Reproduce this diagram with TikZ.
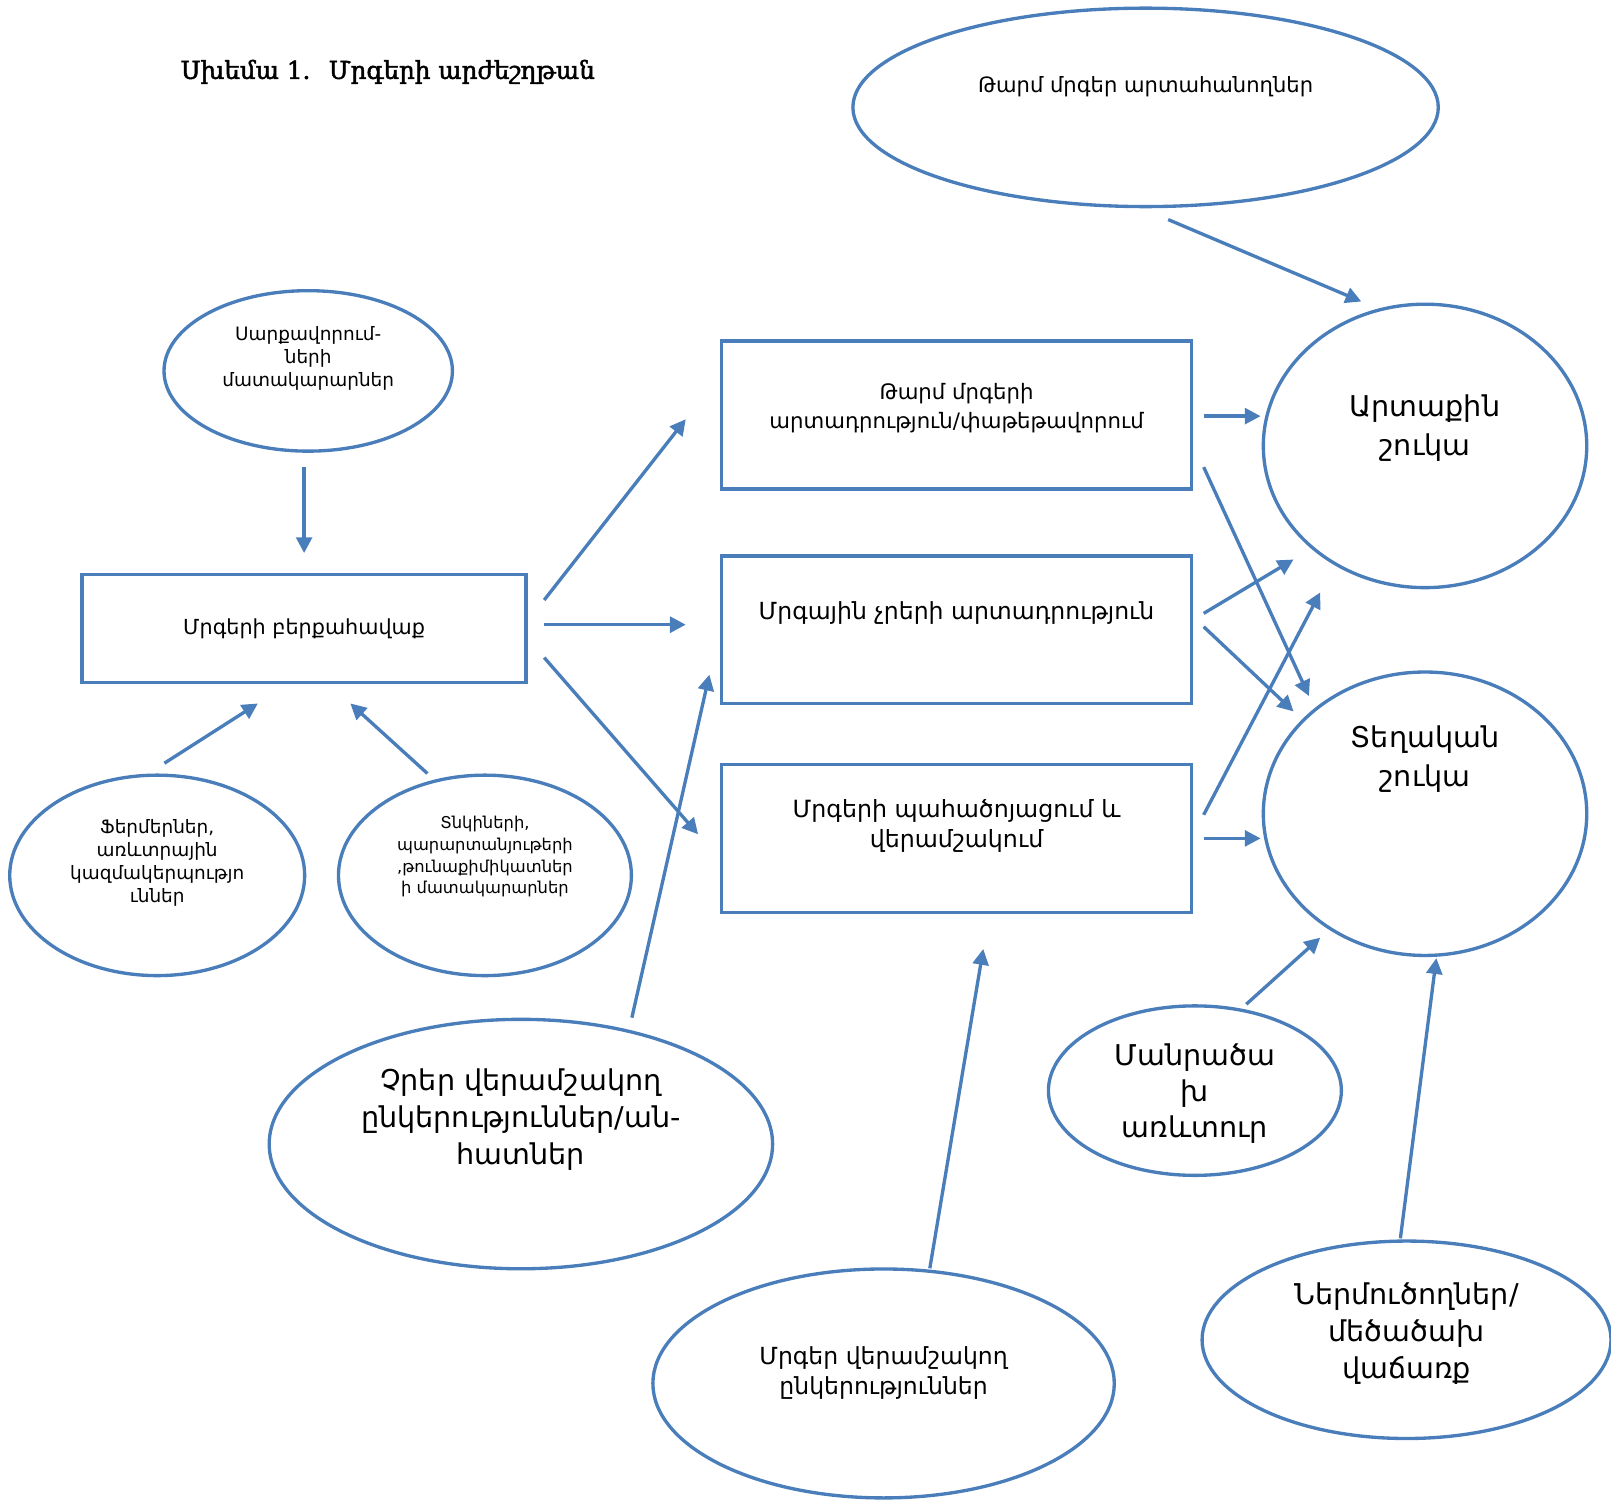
\documentclass[tikz,border=0pt]{standalone}
\usepackage{fontspec}
\setmainfont{DejaVu Sans}
\newfontfamily\titlefont[FakeBold=2]{DejaVu Serif}
\usetikzlibrary{arrows.meta, shapes.geometric}
\definecolor{outline}{RGB}{74, 126, 187}

\tikzset{
  box/.style = {draw=outline, line width=1.9pt, minimum width=9.41cm, minimum height=2.96cm},
  oval/.style = {draw=outline, line width=1.9pt, ellipse, inner sep=0pt},
  arr/.style = {draw=outline, line width=1.9pt, -{Triangle[length=9pt, width=9pt]}},
  small/.style = {align=center, font=\fontsize{10.5}{13}\selectfont},
  medium/.style = {align=center, font=\fontsize{12.4}{16.2}\selectfont},
  big/.style = {align=center, font=\fontsize{16.3}{22}\selectfont}
}

\begin{document}
\begin{tikzpicture}[x=0.02055cm, y=-0.02055cm]
    \useasboundingbox (0,0) rectangle (1568,1459);

    \node[anchor=west, font=\titlefont\fontsize{14}{17}\selectfont] (title) at (170,70) {Սխեմա 1.~ Մրգերի արժեշղթան};

    % left column
    \node[oval, minimum width=5.77cm, minimum height=3.21cm, label={[small, yshift=0.25cm]center:Սարքավորում-\\ների\\մատակարարներ}] (suppliers) at (300,361) {};
    \node[draw=outline, line width=1.9pt, minimum width=8.88cm, minimum height=2.16cm, medium, font=\fontsize{11.8}{15}\selectfont] (harvest) at (296,611.5) {Մրգերի բերքահավաք};
    \node[oval, minimum width=5.90cm, minimum height=4.01cm, label={[small, yshift=0.25cm]center:Ֆերմերներ,\\առևտրային\\կազմակերպությո\\ւններ}] (farmers) at (153,852) {};
    \node[oval, minimum width=5.86cm, minimum height=4.01cm, label={[small, font=\fontsize{9.3}{12.3}\selectfont, yshift=0.37cm]center:Տնկիների,\\պարարտանյութերի\\,թունաքիմիկատներ\\ի մատակարարներ}] (inputs) at (472,852) {};

    % middle column
    \node[box, label={[medium, font=\fontsize{12.1}{16.2}\selectfont, yshift=0.14cm]center:Թարմ մրգերի\\արտադրություն/փաթեթավորում}] (fresh) at (931,404) {};
    \node[box, label={[medium, font=\fontsize{13.4}{16.2}\selectfont, yshift=0.33cm]center:Մրգային չրերի արտադրություն}] (dried) at (931,613) {};
    \node[box, label={[medium, font=\fontsize{13.5}{17.5}\selectfont, yshift=0.25cm]center:Մրգերի պահածոյացում և\\վերամշակում}] (canning) at (931,816) {};
    \node[oval, minimum width=10.07cm, minimum height=4.99cm, label={[big, font=\fontsize{16.3}{21}\selectfont, yshift=0.49cm]center:Չրեր վերամշակող\\ընկերություններ/ան-\\հատներ}] (dryproc) at (507,1113.5) {};
    \node[oval, minimum width=9.23cm, minimum height=4.58cm, label={[medium, font=\fontsize{13.4}{17}\selectfont, yshift=0.21cm]center:Մրգեր վերամշակող\\ընկերություններ}] (fruitproc) at (860,1346.5) {};

    % right column
    \node[oval, minimum width=11.71cm, minimum height=3.97cm, label={[medium, font=\fontsize{12}{16}\selectfont, yshift=0.41cm]center:Թարմ մրգեր արտահանողներ}] (exporters) at (1115,104.5) {};
    \node[oval, minimum width=6.47cm, minimum height=5.67cm, label={[big, yshift=0.35cm]center:Արտաքին\\շուկա}] (extmkt) at (1387,434) {};
    \node[oval, minimum width=6.47cm, minimum height=5.67cm, label={[big, yshift=1.09cm]center:Տեղական\\շուկա}] (locmkt) at (1387,792) {};
    \node[oval, minimum width=5.86cm, minimum height=3.39cm, label={[big, font=\fontsize{16.3}{20.5}\selectfont, yshift=-0.06cm]center:Մանրածա\\խ\\առևտուր}] (retail) at (1163,1061.5) {};
    \node[oval, minimum width=8.18cm, minimum height=3.95cm, label={[big, font=\fontsize{16.3}{21}\selectfont, yshift=0.12cm]center:Ներմուծողներ/\\մեծածախ\\վաճառք}] (importers) at (1369,1304) {};

    % arrows
    \draw[arr] ([shift={(-4,14)}]suppliers.south) -- ([shift={(0,-19)}]harvest.north);
    \draw[arr] ([shift={(7,-10)}]farmers.north) -- ([shift={(-45,19)}]harvest.south);
    \draw[arr] ([shift={(-56,0)}]inputs.north) -- ([shift={(45,19)}]harvest.south);

    \draw[arr] ([shift={(16,-27.5)}]harvest.east) -- ([shift={(-33,4)}]fresh.west);
    \draw[arr] ([shift={(16,-3.5)}]harvest.east) -- ([shift={(-33,-5)}]dried.west);
    \draw[arr] ([shift={(16,28.5)}]harvest.east) -- ([shift={(-21,-4)}]canning.west);
    \draw[arr] ([shift={(108,0)}]dryproc.north) -- ([shift={(-10,-30)}]dried.south west);
    \draw[arr] ([shift={(45,1)}]fruitproc.north) -- ([shift={(26,34)}]canning.south);

    \draw[arr] ([shift={(22,11)}]exporters.south) -- ([shift={(-62,-1)}]extmkt.north);
    \draw[arr] ([shift={(10,1)}]fresh.east) -- ([shift={(-1,-29)}]extmkt.west);
    \draw[arr] ([shift={(10,-23)}]fresh.south east) -- ([shift={(-113,25)}]locmkt.north);
    \draw[arr] ([shift={(10,-16)}]dried.east) -- ([shift={(-128,-29)}]extmkt.south);
    \draw[arr] ([shift={(10,-3)}]dried.east) -- ([shift={(-128,40)}]locmkt.north);
    \draw[arr] ([shift={(10,-23)}]canning.east) -- ([shift={(-102,3)}]extmkt.south);
    \draw[arr] ([shift={(10,0)}]canning.east) -- ([shift={(-1,24)}]locmkt.west);
    \draw[arr] ([shift={(50,0)}]retail.north) -- ([shift={(-102,-19)}]locmkt.south);
    \draw[arr] ([shift={(-6,-1)}]importers.north) -- ([shift={(11,1)}]locmkt.south);
  \end{tikzpicture}
\end{document}
